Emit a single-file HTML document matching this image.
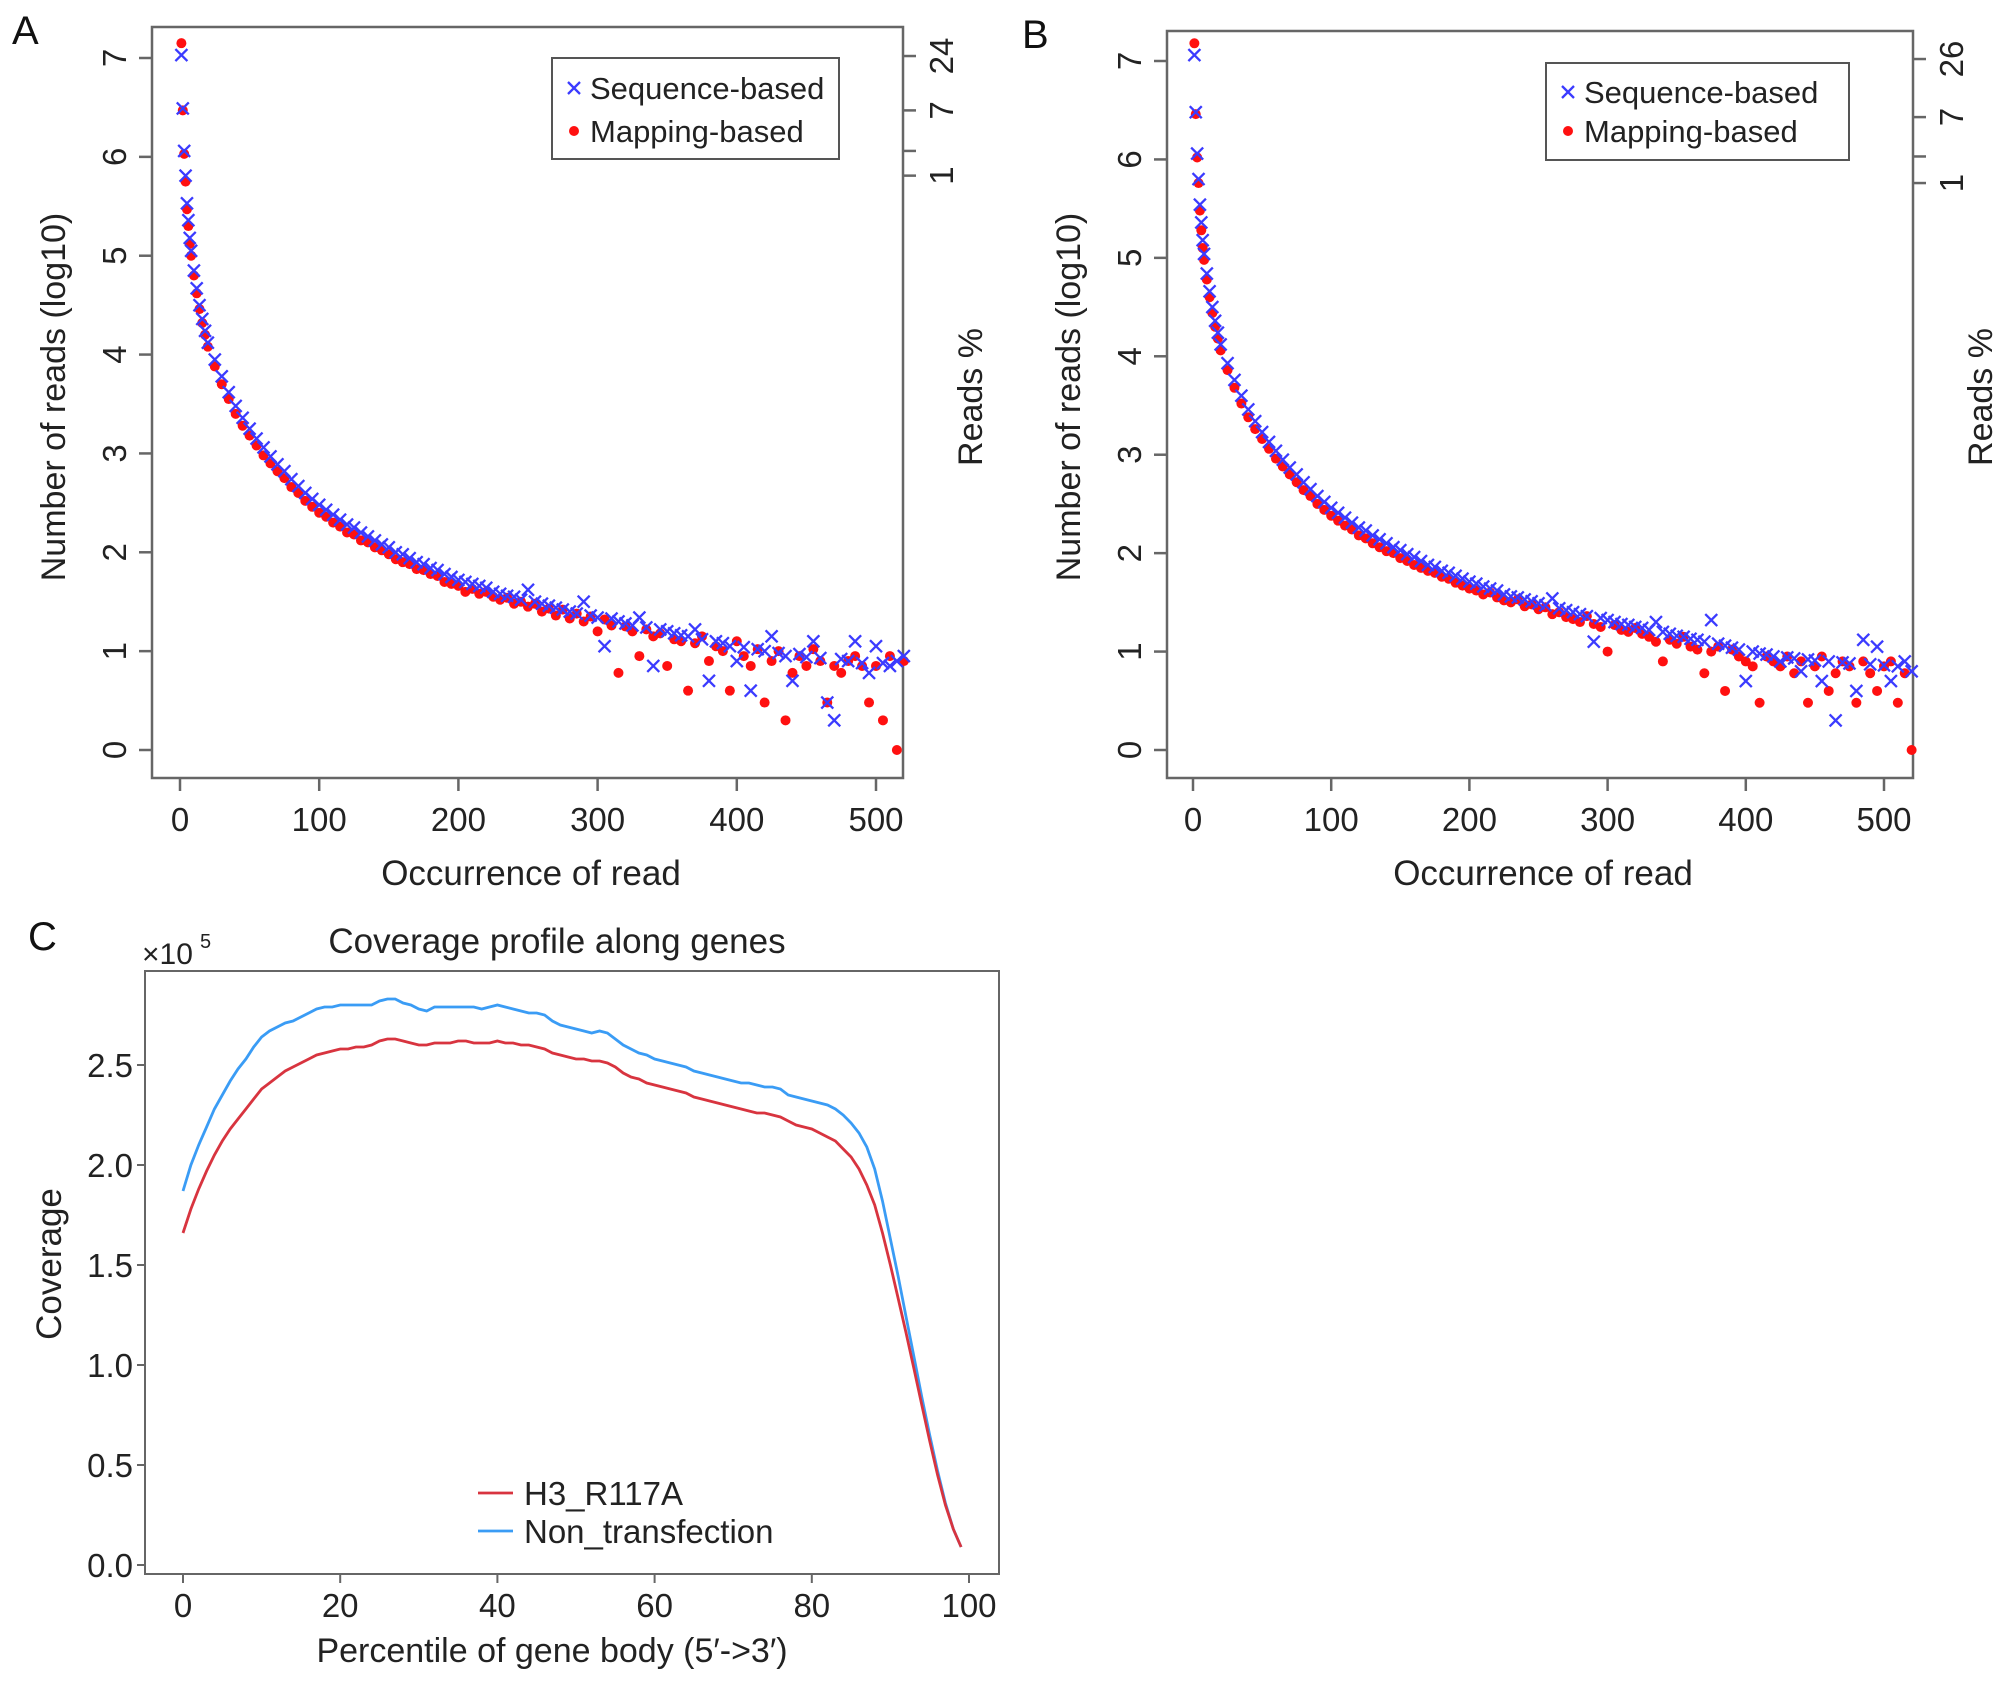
<!DOCTYPE html>
<html><head><meta charset="utf-8">
<style>
html,body{margin:0;padding:0;background:#fff;}
svg{display:block;font-family:"Liberation Sans",Arial,sans-serif;}
</style></head>
<body>
<svg id="fig" width="2008" height="1682" viewBox="0 0 2008 1682" xmlns="http://www.w3.org/2000/svg">
<rect width="2008" height="1682" fill="#fff"/>
<text x="12" y="44" font-size="40" fill="#111">A</text>
<text x="1022" y="48" font-size="40" fill="#111">B</text>
<text x="28" y="950" font-size="40" fill="#111">C</text>
<g id="pa"></g>
<g id="pb"></g>
<g id="pc"></g>
</svg>
<script>
// ---------- Panel A/B data ----------
const occX = [1,2,3,4,5,6,7,8,10,12,14,16,18,20,
25,30,35,40,45,50,55,60,65,70,75,80,85,90,95,100,105,110,115,120,
125,130,135,140,145,150,155,160,165,170,175,180,185,190,195,200,205,210,215,220,
225,230,235,240,245,250,255,260,265,270,275,280,285,290,295,300,305,310,315,320,
325,330,335,340,345,350,355,360,365,370,375,380,385,390,395,400,405,410,415,420,
425,430,435,440,445,450,455,460,465,470,475,480,485,490,495,500,505,510,515,520];
const seqA = [7.03,6.49,6.06,5.81,5.53,5.36,5.18,5.05,4.85,4.67,4.50,4.36,4.24,4.12,
3.95,3.78,3.62,3.48,3.36,3.25,3.15,3.06,2.97,2.89,
2.82,2.74,2.67,2.60,2.54,2.48,2.43,2.38,2.33,2.28,
2.25,2.20,2.16,2.12,2.08,2.05,2.00,1.98,1.94,1.90,
1.88,1.84,1.82,1.78,1.75,1.72,1.70,1.68,1.66,1.64,
1.60,1.58,1.56,1.55,1.52,1.62,1.50,1.48,1.46,1.44,
1.42,1.40,1.38,1.50,1.36,1.34,1.05,1.33,1.30,1.28,
1.26,1.34,1.24,0.85,1.22,1.20,1.18,1.16,1.15,1.22,
1.12,0.70,1.10,1.08,1.05,0.90,1.04,0.60,1.02,1.00,
1.15,0.98,0.95,0.70,0.97,0.94,1.10,0.93,0.48,0.30,
0.92,0.90,1.10,0.88,0.78,1.05,0.88,0.85,0.90,0.95];
const mapA = [7.15,6.47,6.03,5.75,5.47,5.30,5.12,5.00,4.80,4.62,4.46,4.32,4.20,4.08,
3.88,3.70,3.55,3.40,3.28,3.18,3.08,2.98,2.90,2.82,
2.75,2.66,2.60,2.52,2.46,2.40,2.36,2.30,2.26,2.20,
2.18,2.12,2.10,2.05,2.02,1.98,1.93,1.90,1.88,1.83,
1.82,1.78,1.76,1.70,1.68,1.66,1.60,1.63,1.58,1.60,
1.55,1.52,1.54,1.48,1.50,1.45,1.48,1.40,1.43,1.36,
1.42,1.33,1.38,1.30,1.35,1.20,1.32,1.26,0.78,1.25,
1.20,0.95,1.22,1.15,1.18,0.85,1.12,1.10,0.60,1.08,
1.15,0.90,1.05,1.00,0.60,1.10,0.95,0.85,1.02,0.48,
0.90,1.00,0.30,0.78,0.95,0.85,1.02,0.90,0.48,0.85,
0.78,0.90,0.95,0.85,0.48,0.85,0.30,0.95,0.00,0.90];
const seqB = [7.06,6.48,6.06,5.80,5.54,5.36,5.18,5.04,4.84,4.66,4.50,4.36,4.24,4.12,
3.93,3.76,3.60,3.46,3.34,3.23,3.13,3.04,2.95,2.87,
2.80,2.72,2.65,2.58,2.52,2.46,2.41,2.36,2.31,2.26,
2.23,2.18,2.14,2.10,2.06,2.03,1.99,1.96,1.92,1.88,
1.86,1.82,1.80,1.77,1.74,1.71,1.69,1.66,1.64,1.62,
1.58,1.56,1.55,1.53,1.51,1.49,1.47,1.54,1.44,1.42,
1.40,1.38,1.36,1.10,1.34,1.32,1.30,1.28,1.27,1.25,
1.24,1.22,1.30,1.20,1.18,1.16,1.15,1.13,1.12,1.10,
1.32,1.08,1.06,1.04,1.02,0.70,1.00,0.98,0.97,0.95,
0.90,0.94,0.93,0.80,0.92,0.91,0.70,0.90,0.30,0.89,
0.88,0.60,1.12,0.87,1.05,0.86,0.70,0.85,0.90,0.80];
const mapB = [7.18,6.46,6.02,5.76,5.48,5.28,5.10,4.98,4.78,4.60,4.44,4.30,4.18,4.06,
3.86,3.68,3.52,3.38,3.26,3.16,3.06,2.96,2.88,2.80,
2.72,2.64,2.58,2.50,2.44,2.38,2.33,2.28,2.24,2.18,
2.15,2.10,2.06,2.02,2.00,1.95,1.92,1.88,1.85,1.82,
1.80,1.76,1.74,1.70,1.67,1.64,1.62,1.58,1.60,1.55,
1.52,1.50,1.53,1.46,1.48,1.43,1.45,1.38,1.40,1.35,
1.33,1.30,1.36,1.28,1.25,1.00,1.27,1.22,1.20,1.24,
1.18,1.15,1.10,0.90,1.12,1.08,1.15,1.05,1.02,0.78,
1.00,1.05,0.60,1.02,0.95,0.90,0.85,0.48,0.95,0.90,
0.85,0.95,0.78,0.90,0.48,0.85,0.95,0.60,0.78,0.90,
0.85,0.48,0.90,0.78,0.60,0.85,0.90,0.48,0.78,0.00];
const xTicksAB = [0,100,200,300,400,500];
const yTicksAB = [0,1,2,3,4,5,6,7];
const rightTickValsA = [7.02,6.47,6.06,5.81];
const rightTickLabelsA = ["24","7","","1"];
const rightTickValsB = [7.02,6.43,6.03,5.76];
const rightTickLabelsB = ["26","7","","1"];

// ---------- Panel C data ----------
const pctX = [0,1,2,3,4,5,6,7,8,9,10,11,12,13,14,15,16,17,18,19,20,21,22,23,24,25,26,27,28,29,30,31,32,33,34,35,36,37,38,39,40,41,42,43,44,45,46,47,48,49,50,51,52,53,54,55,56,57,58,59,60,61,62,63,64,65,66,67,68,69,70,71,72,73,74,75,76,77,78,79,80,81,82,83,84,85,86,87,88,89,90,91,92,93,94,95,96,97,98,99];
const covH3 = [1.66,1.78,1.88,1.97,2.05,2.12,2.18,2.23,2.28,2.33,2.38,2.41,2.44,2.47,2.49,2.51,2.53,2.55,2.56,2.57,2.58,2.58,2.59,2.59,2.60,2.62,2.63,2.63,2.62,2.61,2.60,2.60,2.61,2.61,2.61,2.62,2.62,2.61,2.61,2.61,2.62,2.61,2.61,2.60,2.60,2.59,2.58,2.56,2.55,2.54,2.53,2.53,2.52,2.52,2.51,2.49,2.46,2.44,2.43,2.41,2.40,2.39,2.38,2.37,2.36,2.34,2.33,2.32,2.31,2.30,2.29,2.28,2.27,2.26,2.26,2.25,2.24,2.22,2.20,2.19,2.18,2.16,2.14,2.12,2.08,2.04,1.98,1.90,1.80,1.66,1.50,1.33,1.16,0.98,0.80,0.62,0.45,0.30,0.18,0.09];
const covNon = [1.87,2.00,2.10,2.19,2.28,2.35,2.42,2.48,2.53,2.59,2.64,2.67,2.69,2.71,2.72,2.74,2.76,2.78,2.79,2.79,2.80,2.80,2.80,2.80,2.80,2.82,2.83,2.83,2.81,2.80,2.78,2.77,2.79,2.79,2.79,2.79,2.79,2.79,2.78,2.79,2.80,2.79,2.78,2.77,2.76,2.76,2.75,2.72,2.70,2.69,2.68,2.67,2.66,2.67,2.66,2.63,2.60,2.58,2.56,2.55,2.53,2.52,2.51,2.50,2.49,2.47,2.46,2.45,2.44,2.43,2.42,2.41,2.41,2.40,2.39,2.39,2.38,2.35,2.34,2.33,2.32,2.31,2.30,2.28,2.25,2.21,2.16,2.09,1.98,1.82,1.63,1.44,1.24,1.04,0.84,0.65,0.47,0.31,0.18,0.09];
const xTicksC = [0,20,40,60,80,100];
const yTicksC = [0,0.5,1.0,1.5,2.0,2.5];
const yTickLabelsC = ["0.0","0.5","1.0","1.5","2.0","2.5"];

const NS = "http://www.w3.org/2000/svg";
function mk(parent, tag, attrs, text) {
  const e = document.createElementNS(NS, tag);
  for (const k in attrs) e.setAttribute(k, attrs[k]);
  if (text !== undefined) e.textContent = text;
  parent.appendChild(e);
  return e;
}

function scatterPanel(g, c, seq, map, rVals, rLabels) {
  const sx = v => c.x0 + (v - 0) * (c.x500 - c.x0) / 500;
  const sy = v => c.y0 + (v - 0) * (c.y7 - c.y0) / 7;
  const box = mk(g, "rect", {x:c.L, y:c.T, width:c.R-c.L, height:c.B-c.T, fill:"none", stroke:"#666", "stroke-width":2.5});
  
  
  xTicksAB.forEach(t => {
    const x = sx(t);
    const l = mk(g, "line", {x1:x, x2:x, y1:c.B, y2:c.B+13, stroke:"#666", "stroke-width":2.5});
    
    
    const tx = mk(g, "text", {x:x, y:c.B+53, "font-size":33, "text-anchor":"middle", fill:"#222"}, String(t));
    
    
  });
  yTicksAB.forEach(t => {
    const y = sy(t);
    const l = mk(g, "line", {x1:c.L-13, x2:c.L, y1:y, y2:y, stroke:"#666", "stroke-width":2.5});
    
    
    const tx = mk(g, "text", {x:0, y:0, "font-size":33, "text-anchor":"middle", fill:"#222", transform:`translate(${c.L-26},${y}) rotate(-90)`}, String(t));
    
    
  });
  rVals.forEach((v, i) => {
    const y = sy(v);
    const l = mk(g, "line", {x1:c.R, x2:c.R+13, y1:y, y2:y, stroke:"#666", "stroke-width":2.5});
    
    
    if (rLabels[i]) {
      const tx = mk(g, "text", {x:0, y:0, "font-size":33, "text-anchor":"middle", fill:"#222", transform:`translate(${c.R+50},${y}) rotate(-90)`}, rLabels[i]);
      
      
    }
  });
  const xt = mk(g, "text", {x:c.xTitleX, y:c.B+107, "font-size":35, "text-anchor":"middle", fill:"#222"}, "Occurrence of read");
  
  
  const yt = mk(g, "text", {x:0, y:0, "font-size":34, "text-anchor":"middle", fill:"#222", transform:`translate(${c.L-87},397) rotate(-90)`}, "Number of reads (log10)");
  
  
  const rt = mk(g, "text", {x:0, y:0, "font-size":34, "text-anchor":"middle", fill:"#222", transform:`translate(${c.R+79},397) rotate(-90)`}, "Reads %");
  
  
  occX.forEach((xv, i) => {
    const x = sx(xv), y = sy(map[i]);
    const d = mk(g, "circle", {cx:x, cy:y, r:5, fill:"#ff1010"});
    
    
  });
  occX.forEach((xv, i) => {
    const x = sx(xv), y = sy(seq[i]), s = 6;
    const p = mk(g, "path", {d:`M${x-s},${y-s}L${x+s},${y+s}M${x-s},${y+s}L${x+s},${y-s}`, stroke:"#3b3bff", "stroke-width":2.3, fill:"none"});
    
    
  });
  const lg = mk(g, "g", {});
  
  
  const lb = mk(lg, "rect", {x:c.lgL, y:c.lgT, width:c.lgW, height:c.lgH, fill:"#fff", stroke:"#555", "stroke-width":2});
  
  
  const m1x = c.lgL + 22, y1 = c.lgT + c.lgE1, y2 = c.lgT + c.lgE2;
  const m1 = mk(lg, "path", {d:`M${m1x-6},${y1-6}L${m1x+6},${y1+6}M${m1x-6},${y1+6}L${m1x+6},${y1-6}`, stroke:"#3b3bff", "stroke-width":2.3});
  
  
  const t1 = mk(lg, "text", {x:c.lgL+38, y:y1+11, "font-size":31, fill:"#222"}, "Sequence-based");
  
  
  const m2 = mk(lg, "circle", {cx:m1x, cy:y2, r:5, fill:"#ff1010"});
  
  
  const t2 = mk(lg, "text", {x:c.lgL+38, y:y2+11, "font-size":31, fill:"#222"}, "Mapping-based");
  
  
}

scatterPanel(document.getElementById("pa"),
  {L:152, R:903, T:27, B:778, x0:180, x500:876, y0:750, y7:58, xTitleX:531,
   lgL:552, lgT:58, lgW:287, lgH:101, lgE1:30, lgE2:73}, seqA, mapA, rightTickValsA, rightTickLabelsA);
scatterPanel(document.getElementById("pb"),
  {L:1167, R:1913, T:31, B:778, x0:1193, x500:1884, y0:750, y7:61, xTitleX:1543,
   lgL:1546, lgT:63, lgW:303, lgH:97, lgE1:29, lgE2:68}, seqB, mapB, rightTickValsB, rightTickLabelsB);

// ---------- Panel C ----------
(function(){
  const g = document.getElementById("pc");
  const L = 145, R = 999, T = 971, B = 1574;
  const sx = v => 183 + v * (969 - 183) / 100;
  const sy = v => 1565 - v * (1565 - 1065) / 2.5;
  const box = mk(g, "rect", {x:L, y:T, width:R-L, height:B-T, fill:"none", stroke:"#666", "stroke-width":2});
  
  
  xTicksC.forEach(t => {
    const x = sx(t);
    const l = mk(g, "line", {x1:x, x2:x, y1:B, y2:B+9, stroke:"#666", "stroke-width":2});
    
    
    const tx = mk(g, "text", {x:x, y:B+43, "font-size":33, "text-anchor":"middle", fill:"#222"}, String(t));
    
    
  });
  yTicksC.forEach((t, i) => {
    const y = sy(t);
    const l = mk(g, "line", {x1:L-8, x2:L, y1:y, y2:y, stroke:"#666", "stroke-width":2});
    
    
    const tx = mk(g, "text", {x:L-12, y:y+12, "font-size":33, "text-anchor":"end", fill:"#222"}, yTickLabelsC[i]);
    
    
  });
  const mult = mk(g, "text", {x:142, y:964, "font-size":30, fill:"#222"}, "×10");
  
  
  const ex = mk(g, "text", {x:200, y:948, "font-size":20, fill:"#222"}, "5");
  
  
  const title = mk(g, "text", {x:557, y:953, "font-size":35, "text-anchor":"middle", fill:"#222"}, "Coverage profile along genes");
  
  
  const xt = mk(g, "text", {x:552, y:1662, "font-size":34, "text-anchor":"middle", fill:"#222"}, "Percentile of gene body (5′->3′)");
  
  
  const yt = mk(g, "text", {x:0, y:0, "font-size":35, "text-anchor":"middle", fill:"#222", transform:"translate(61,1264) rotate(-90)"}, "Coverage");
  
  
  const line = (vals) => pctX.map((x, i) => (i ? "L" : "M") + sx(x).toFixed(1) + "," + sy(vals[i]).toFixed(1)).join("");
  const l1 = mk(g, "path", {d:line(covNon), stroke:"#3a9cf5", "stroke-width":2.8, fill:"none"});
  
  
  const l2 = mk(g, "path", {d:line(covH3), stroke:"#d8343f", "stroke-width":2.8, fill:"none"});
  
  
  const a = mk(g, "line", {x1:478, x2:513, y1:1493, y2:1493, stroke:"#d8343f", "stroke-width":2.8});
  
  
  const at = mk(g, "text", {x:524, y:1505, "font-size":33, fill:"#222"}, "H3_R117A");
  
  
  const b = mk(g, "line", {x1:478, x2:513, y1:1531, y2:1531, stroke:"#3a9cf5", "stroke-width":2.8});
  
  
  const bt = mk(g, "text", {x:524, y:1543, "font-size":33, fill:"#222"}, "Non_transfection");
  
  
})();
</script>
</body></html>
